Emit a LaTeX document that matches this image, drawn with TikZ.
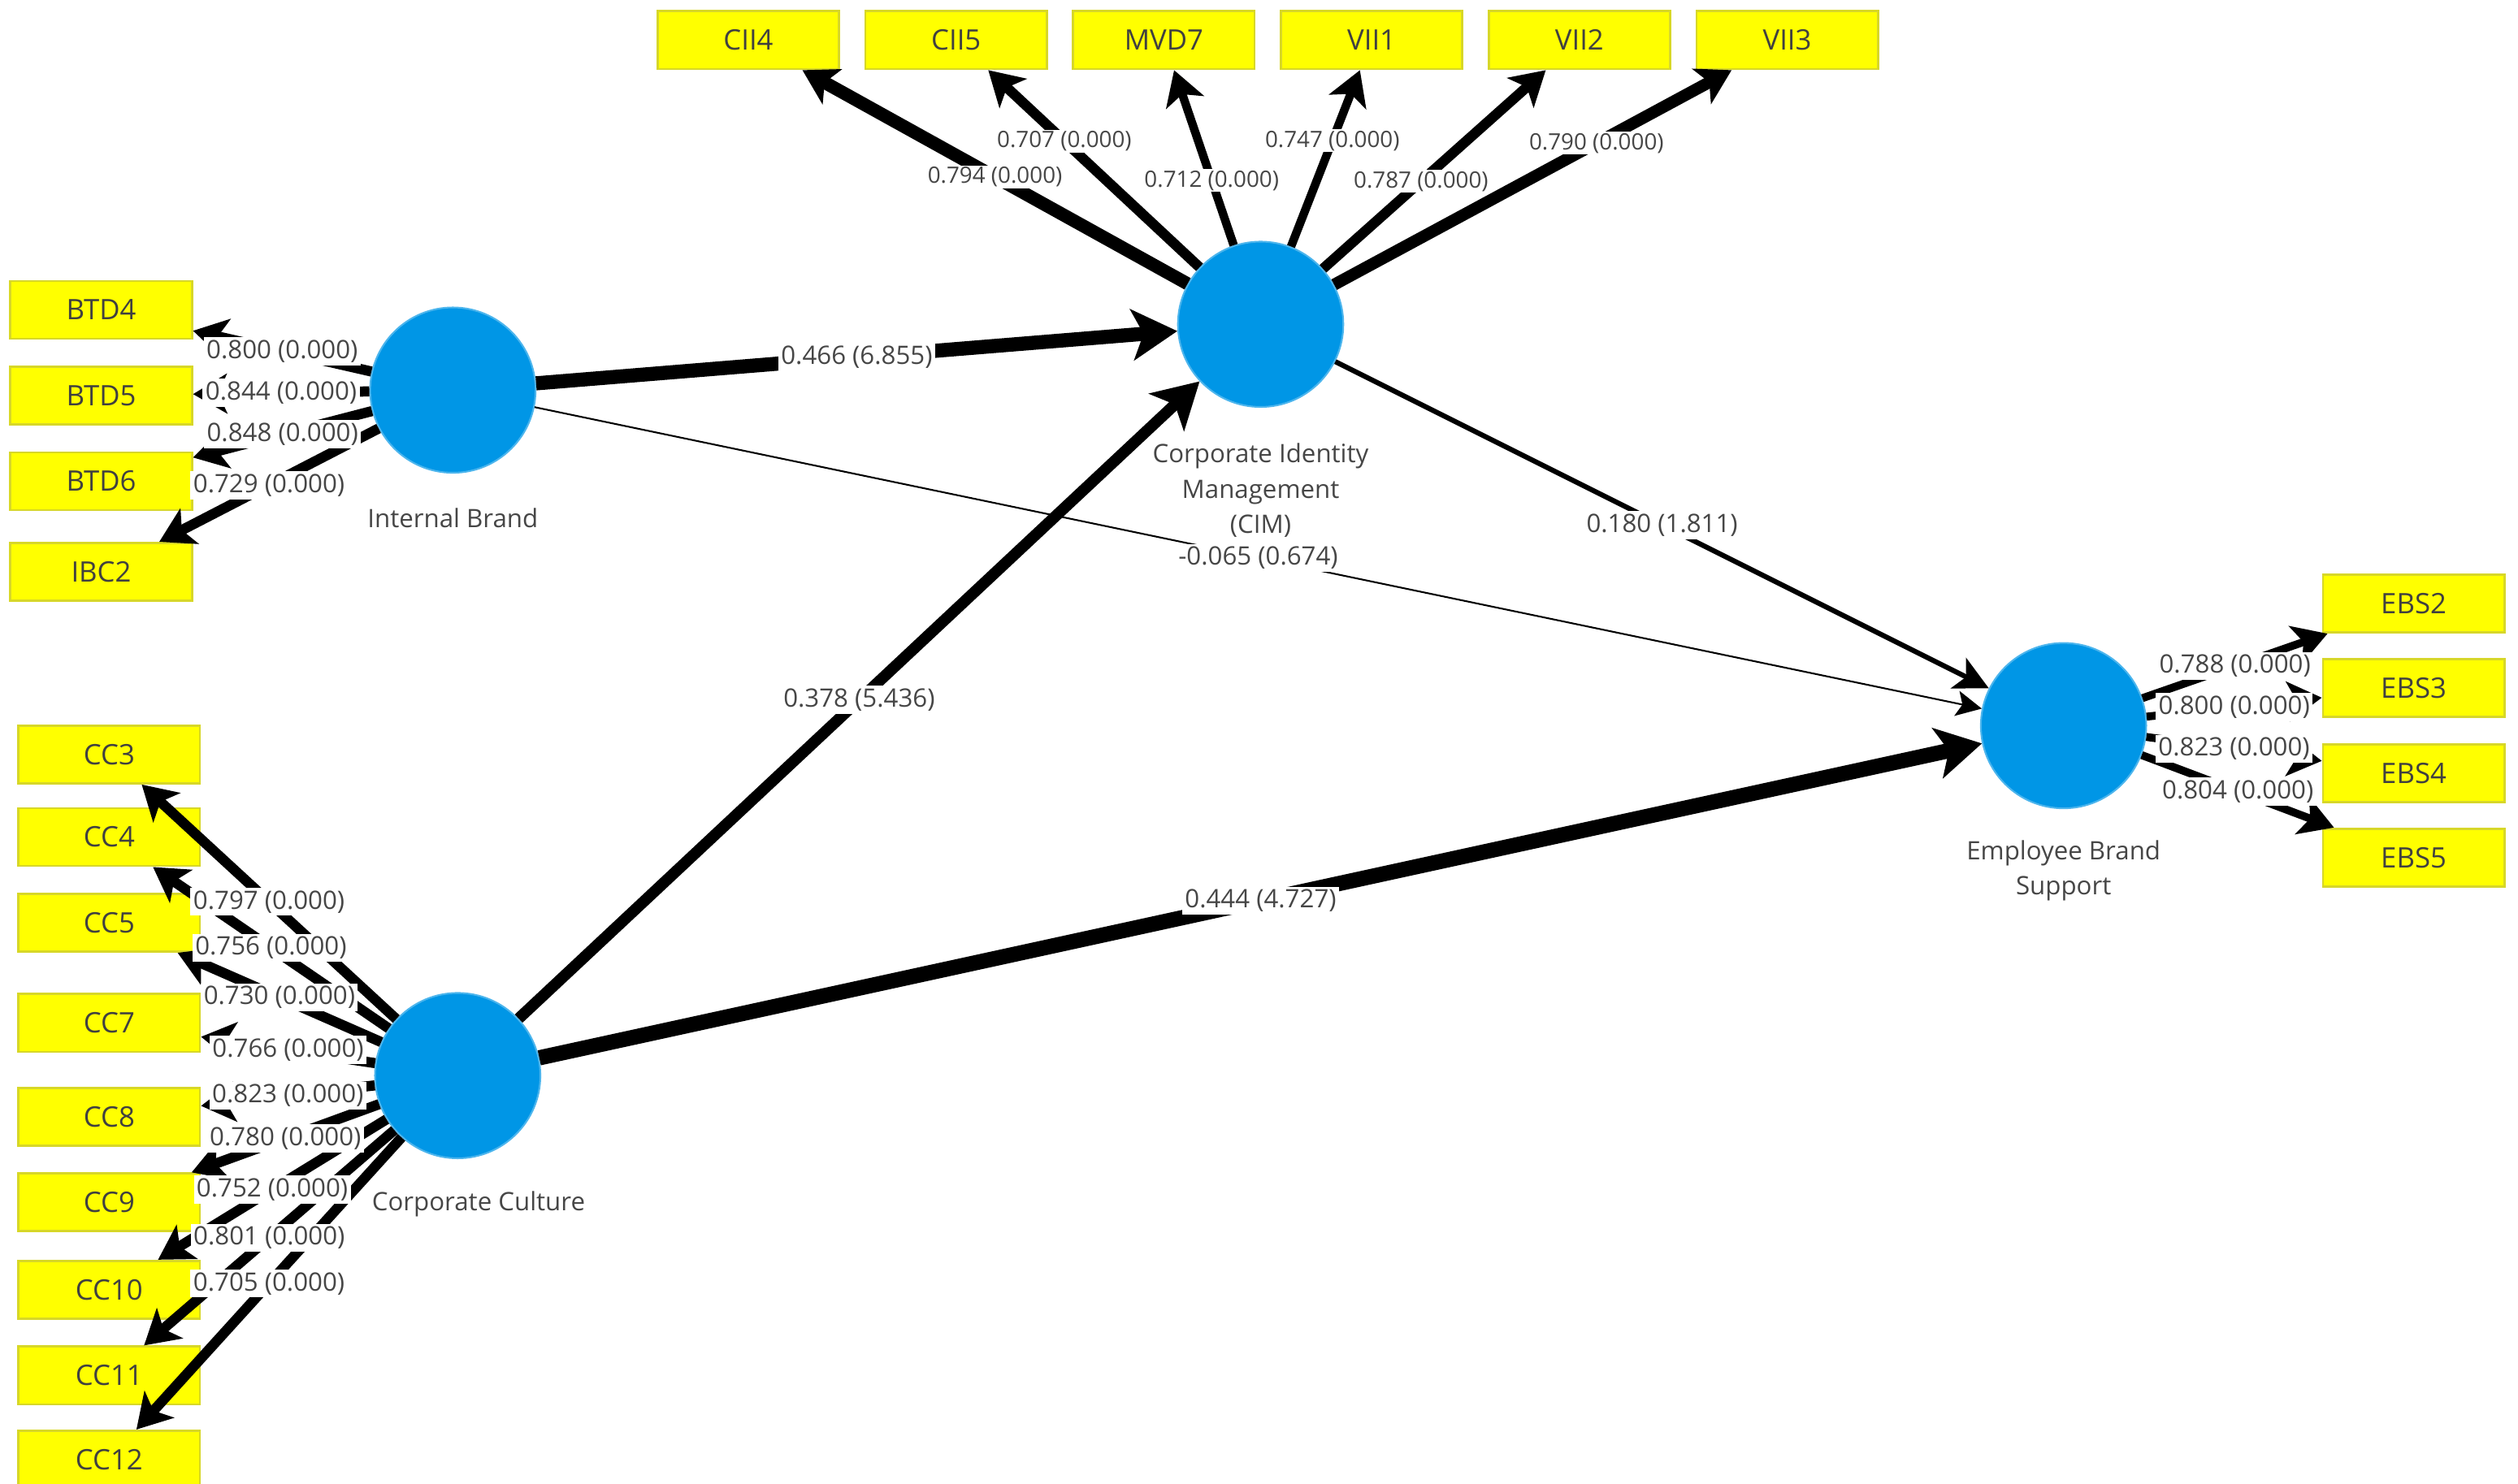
\documentclass[tikz,border=0pt]{standalone}
\usepackage{fontspec}
\setmainfont{Open Sans}
\usetikzlibrary{arrows.meta, positioning}
\definecolor{plsblue}{RGB}{0,150,230}
\definecolor{plsyellow}{RGB}{255,255,0}
\definecolor{plsedge}{RGB}{215,215,40}
\definecolor{plsgray}{RGB}{70,70,70}
\tikzset{
    latent/.style={circle, minimum size=2.06cm, inner sep=0pt, fill=plsblue, draw=plsblue!70!white, line width=0.6pt},
    indicator/.style={rectangle, minimum width=2.26cm, minimum height=0.72cm, inner sep=0pt, fill=plsyellow, draw=plsedge, line width=0.8pt, text=black!75, font=\fontsize{10}{12}\selectfont},
    latname/.style={align=center, inner sep=0pt, text=plsgray, font=\fontsize{9}{12.5}\selectfont},
    coef/.style={fill=white, inner sep=1pt, text=plsgray, font=\fontsize{9}{10}\selectfont},
    topcoef/.style={coef, inner sep=0.5pt, font=\fontsize{8}{9}\selectfont},
    loading/.style={line width=3.6pt, -{Stealth[length=12pt, width=14pt, inset=3pt]}},
    struct/.style={-{Stealth[length=16pt, width=18pt, inset=4pt]}}
}

\begin{document}
\begin{tikzpicture}[x=0.02cm, y=-0.02cm]
    \useasboundingbox (0,0) rectangle (1568,924);

    % latent variables
    \node (ib) [latent] at (282,243) {};
    \node (cim) [latent] at (785,202) {};
    \node (cc) [latent] at (285,670) {};
    \node (ebs) [latent] at (1285,452) {};

    \node (ibname) [latname, below=0.42cm of ib] {Internal Brand};
    \node (cimname) [latname, below=0.44cm of cim] {Corporate Identity\\Management\\(CIM)};
    \node (ccname) [latname, below=0.4cm of cc, xshift=0.26cm] {Corporate Culture};
    \node (ebsname) [latname, below=0.38cm of ebs] {Employee Brand\\Support};

    % indicators
    \node (cii4) [indicator] at (466,25) {CII4};
    \node (cii5) [indicator, right=0.3cm of cii4] {CII5};
    \node (mvd7) [indicator, right=0.3cm of cii5] {MVD7};
    \node (vii1) [indicator, right=0.3cm of mvd7] {VII1};
    \node (vii2) [indicator, right=0.3cm of vii1] {VII2};
    \node (vii3) [indicator, right=0.3cm of vii2] {VII3};

    \node (btd4) [indicator] at (63,193) {BTD4};
    \node (btd5) [indicator, below=0.32cm of btd4] {BTD5};
    \node (btd6) [indicator, below=0.32cm of btd5] {BTD6};
    \node (ibc2) [indicator, below=0.38cm of btd6] {IBC2};

    \node (cc3) [indicator] at (68,470) {CC3};
    \node (cc4) [indicator, below=0.28cm of cc3] {CC4};
    \node (cc5) [indicator, below=0.32cm of cc4] {CC5};
    \node (cc7) [indicator, below=0.5cm of cc5] {CC7};
    \node (cc8) [indicator, below=0.42cm of cc7] {CC8};
    \node (cc9) [indicator, below=0.32cm of cc8] {CC9};
    \node (cc10) [indicator, below=0.34cm of cc9] {CC10};
    \node (cc11) [indicator, below=0.32cm of cc10] {CC11};
    \node (cc12) [indicator, below=0.3cm of cc11] {CC12};

    \node (ebs2) [indicator] at (1503,376) {EBS2};
    \node (ebs3) [indicator, below=0.3cm of ebs2] {EBS3};
    \node (ebs4) [indicator, below=0.32cm of ebs3] {EBS4};
    \node (ebs5) [indicator, below=0.3cm of ebs4] {EBS5};

    % outer loadings
    \draw [loading] (ib) -- (btd4);
    \draw [loading] (ib) -- (btd5);
    \draw [loading] (ib) -- (btd6);
    \draw [loading] (ib) -- (ibc2);
    \draw [loading, line width=4.6pt] (cim) -- (cii4);
    \draw [loading] (cim) -- (cii5);
    \draw [loading, line width=3pt] (cim) -- (mvd7);
    \draw [loading, line width=3pt] (cim) -- (vii1);
    \draw [loading] (cim) -- (vii2);
    \draw [loading, line width=4.2pt] (cim) -- (vii3);
    \draw [loading] (cc) -- (cc3);
    \draw [loading] (cc) -- (cc4);
    \draw [loading] (cc) -- (cc5);
    \draw [loading] (cc) -- (cc7);
    \draw [loading] (cc) -- (cc8);
    \draw [loading] (cc) -- (cc9);
    \draw [loading] (cc) -- (cc10);
    \draw [loading] (cc) -- (cc11);
    \draw [loading] (cc) -- (cc12);
    \draw [loading, line width=2.8pt] (ebs) -- (ebs2);
    \draw [loading, line width=2.8pt] (ebs) -- (ebs3);
    \draw [loading, line width=2.8pt] (ebs) -- (ebs4);
    \draw [loading, line width=2.8pt] (ebs) -- (ebs5);

    % inner model
    \draw [struct, line width=5pt] (ib) -- (cim);
    \draw [struct, line width=4pt] (cc) -- (cim);
    \draw [struct, line width=5.4pt] (cc) -- (ebs);
    \draw [-{Stealth[length=12pt, width=12pt, inset=3pt]}, line width=1.8pt] (cim) -- (ebs);
    \draw [-{Stealth[length=9pt, width=9pt, inset=2pt]}, line width=0.6pt] (ib) -- (ebs);

    % coefficients
    \path (ib) -- node [coef] {0.800 (0.000)} (btd4);
    \path (ib) -- node [coef] {0.844 (0.000)} (btd5);
    \path (ib) -- node [coef] {0.848 (0.000)} (btd6);
    \path (ib) -- node [coef] {0.729 (0.000)} (ibc2);
    \path (cim) -- node [topcoef, pos=0.5] {0.794 (0.000)} (cii4);
    \path (cim) -- node [topcoef, pos=0.64] {0.707 (0.000)} (cii5);
    \path (cim) -- node [topcoef, pos=0.37] {0.712 (0.000)} (mvd7);
    \path (cim) -- node [topcoef, pos=0.6] {0.747 (0.000)} (vii1);
    \path (cim) -- node [topcoef, pos=0.44] {0.787 (0.000)} (vii2);
    \path (cim) -- node [topcoef, pos=0.66] {0.790 (0.000)} (vii3);
    \path (cc) -- node [coef] {0.797 (0.000)} (cc3);
    \path (cc) -- node [coef] {0.756 (0.000)} (cc4);
    \path (cc) -- node [coef] {0.730 (0.000)} (cc5);
    \path (cc) -- node [coef] {0.766 (0.000)} (cc7);
    \path (cc) -- node [coef] {0.823 (0.000)} (cc8);
    \path (cc) -- node [coef] {0.780 (0.000)} (cc9);
    \path (cc) -- node [coef] {0.752 (0.000)} (cc10);
    \path (cc) -- node [coef] {0.801 (0.000)} (cc11);
    \path (cc) -- node [coef] {0.705 (0.000)} (cc12);
    \path (ebs) -- node [coef] {0.788 (0.000)} (ebs2);
    \path (ebs) -- node [coef] {0.800 (0.000)} (ebs3);
    \path (ebs) -- node [coef] {0.823 (0.000)} (ebs4);
    \path (ebs) -- node [coef] {0.804 (0.000)} (ebs5);
    \path (ib) -- node [coef] {0.466 (6.855)} (cim);
    \path (cc) -- node [coef] {0.378 (5.436)} (cim);
    \path (cc) -- node [coef] {0.444 (4.727)} (ebs);
    \path (cim) -- node [coef] {0.180 (1.811)} (ebs);
    \path (ib) -- node [coef] {-0.065 (0.674)} (ebs);
\end{tikzpicture}
\end{document}
